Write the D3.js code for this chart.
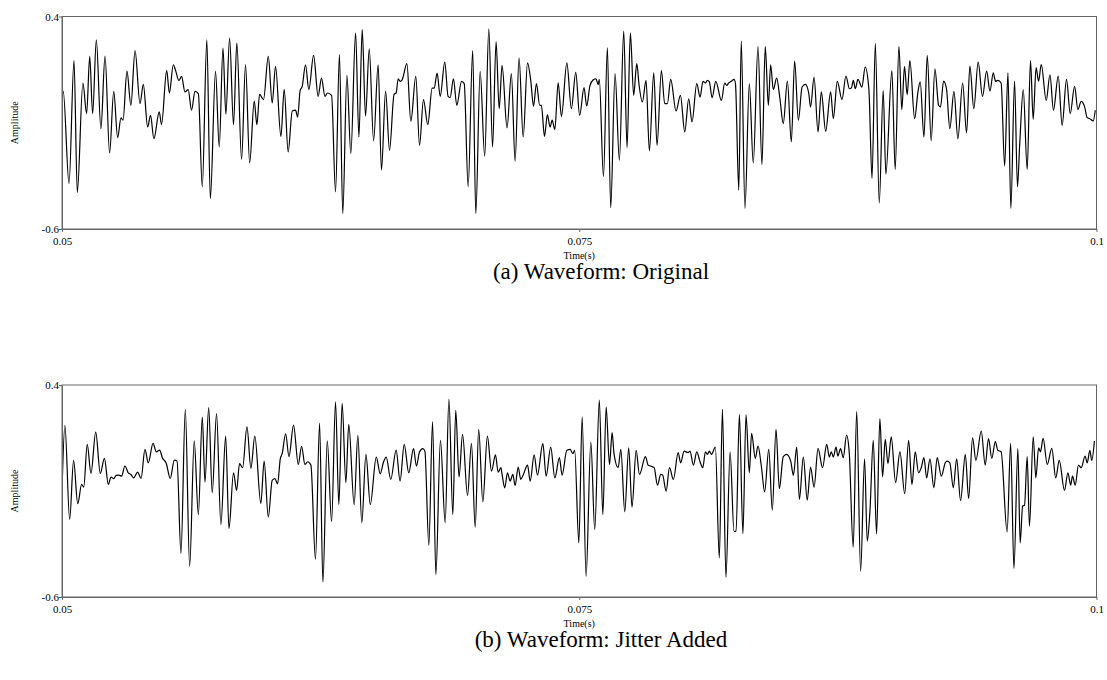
<!DOCTYPE html>
<html>
<head>
<meta charset="utf-8">
<script src="https://cdn.jsdelivr.net/npm/d3@7"></script>
<style>
  body { margin: 0; background: #fff; }
</style>
</head>
<body>
<div id="chart"></div>
<script>
// waveform turning points: time in ms, amplitude
const originalTimeMs = [
  50.00, 50.06, 50.34, 50.58, 50.74, 51.01, 51.19, 51.34, 51.48, 51.66,
  51.88, 52.08, 52.30, 52.50, 52.69, 52.85, 52.95, 53.14, 53.33, 53.53,
  53.77, 53.93, 54.14, 54.28, 54.44, 54.70, 54.81, 55.06, 55.19, 55.38,
  55.49, 55.65, 55.78, 55.94, 56.10, 56.26, 56.43, 56.59, 56.78, 57.00,
  57.17, 57.42, 57.60, 57.78, 57.92, 58.10, 58.29, 58.45, 58.68, 58.87,
  59.07, 59.29, 59.42, 59.55, 59.74, 59.97, 60.16, 60.32, 60.58, 60.74,
  60.93, 61.13, 61.29, 61.39, 61.51, 61.61, 61.77, 61.93, 62.16, 62.38,
  62.54, 62.71, 62.83, 63.03, 63.22, 63.41, 63.57, 63.77, 63.96, 64.19,
  64.35, 64.51, 64.67, 64.85, 65.06, 65.28, 65.44, 65.64, 65.83, 66.05,
  66.15, 66.25, 66.34, 66.44, 66.67, 66.86, 67.10, 67.28, 67.47, 67.68,
  67.89, 67.99, 68.13, 68.28, 68.50, 68.66, 68.76, 68.92, 69.08, 69.31,
  69.44, 69.63, 69.85, 70.00, 70.21, 70.43, 70.63, 70.81, 70.98, 71.13,
  71.27, 71.51, 71.72, 71.90, 72.09, 72.29, 72.50, 72.66, 72.79, 72.93,
  73.09, 73.17, 73.32, 73.46, 73.59, 73.69, 73.82, 73.98, 74.14, 74.40,
  74.62, 74.83, 75.02, 75.23, 75.36, 75.52, 75.68, 75.81, 75.91, 75.97,
  76.17, 76.36, 76.52, 76.73, 76.94, 77.15, 77.31, 77.47, 77.63, 77.78,
  77.89, 78.05, 78.23, 78.39, 78.60, 78.76, 78.97, 79.13, 79.26, 79.42,
  79.68, 79.89, 80.10, 80.29, 80.45, 80.68, 80.84, 80.98, 81.10, 81.19,
  81.29, 81.42, 81.60, 81.87, 82.03, 82.13, 82.22, 82.35, 82.48, 82.55,
  82.71, 82.83, 83.01, 83.22, 83.41, 83.64, 83.83, 83.99, 84.14, 84.25,
  84.38, 84.54, 84.70, 84.86, 85.06, 85.25, 85.41, 85.59, 85.77, 85.93,
  86.09, 86.18, 86.35, 86.54, 86.70, 86.91, 87.15, 87.28, 87.47, 87.70,
  87.89, 88.06, 88.15, 88.25, 88.34, 88.47, 88.66, 88.82, 89.00, 89.15,
  89.31, 89.50, 89.69, 89.82, 90.11, 90.27, 90.45, 90.59, 90.72, 90.85,
  90.98, 91.21, 91.37, 91.48, 91.66, 91.82, 92.01, 92.19, 92.37, 92.46,
  92.61, 92.75, 92.91, 93.11, 93.30, 93.53, 93.72, 93.88, 94.07, 94.28,
  94.49, 94.69, 94.85, 95.01, 95.12, 95.23, 95.39, 95.56, 95.72, 95.86,
  96.04, 96.18, 96.29, 96.46, 96.65, 96.81, 96.94, 97.08, 97.20, 97.33,
  97.57, 97.75, 97.92, 98.15, 98.34, 98.55, 98.73, 98.94, 99.10, 99.26,
  99.42, 99.55, 99.68, 99.84, 99.94
];
const originalAmp = [
  0.024, 0.048, -0.386, 0.193, -0.428, 0.087, -0.057, 0.212, -0.057, 0.290,
  -0.128, 0.214, -0.242, 0.048, -0.170, -0.077, -0.088, 0.143, -0.018, 0.240,
  -0.010, 0.081, -0.120, -0.065, -0.175, -0.049, -0.109, 0.146, 0.040, 0.173,
  0.146, 0.099, 0.118, 0.045, 0.056, -0.041, 0.048, 0.037, -0.401, 0.290,
  -0.456, 0.142, -0.214, 0.251, -0.060, 0.298, -0.109, 0.276, -0.273, 0.174,
  -0.289, 0.002, -0.109, 0.034, 0.009, 0.212, -0.007, 0.165, -0.164, 0.057,
  -0.237, -0.045, -0.041, -0.073, 0.052, 0.071, 0.173, 0.056, 0.217, 0.024,
  0.110, 0.024, 0.040, 0.029, -0.425, 0.221, -0.527, 0.123, -0.245, 0.323,
  -0.167, 0.339, -0.068, 0.248, -0.185, 0.173, -0.323, 0.049, -0.229, 0.034,
  0.040, 0.107, 0.095, 0.102, 0.178, -0.093, 0.118, -0.206, 0.009, -0.109,
  0.063, 0.063, 0.134, 0.024, 0.185, 0.024, 0.018, 0.107, -0.018, 0.095,
  0.084, -0.401, 0.240, -0.527, 0.142, -0.257, 0.342, -0.214, 0.282, -0.034,
  0.170, -0.124, 0.131, -0.281, 0.206, -0.167, 0.182, 0.095, -0.023, 0.084,
  -0.018, -0.018, -0.164, -0.062, -0.120, -0.088, -0.132, 0.088, -0.070, 0.182,
  -0.034, 0.137, -0.065, 0.065, -0.021, 0.076, 0.102, 0.107, 0.079, 0.104,
  -0.354, 0.253, -0.500, 0.131, -0.276, 0.331, -0.217, 0.323, 0.029, 0.178,
  0.079, -0.002, 0.099, -0.232, 0.135, -0.206, 0.146, -0.010, -0.010, 0.104,
  -0.045, 0.029, -0.143, 0.013, -0.096, 0.084, 0.021, 0.095, 0.087, 0.099,
  0.092, 0.018, 0.095, 0.005, 0.087, 0.076, 0.087, 0.095, 0.104, 0.084,
  -0.417, 0.284, -0.503, 0.084, -0.289, 0.259, -0.297, 0.259, -0.018, 0.173,
  0.056, 0.110, 0.013, -0.104, 0.096, -0.190, 0.190, -0.088, 0.068, 0.081,
  0.040, -0.026, 0.115, -0.143, 0.045, -0.140, 0.045, -0.081, 0.095, 0.009,
  0.120, 0.060, 0.063, 0.099, 0.060, 0.104, 0.068, 0.162, 0.056, -0.362,
  0.272, -0.477, 0.052, -0.342, 0.146, -0.320, 0.259, -0.038, 0.165, 0.032,
  0.193, -0.081, 0.045, 0.092, -0.167, 0.217, -0.185, 0.154, -0.018, -0.026,
  0.096, 0.060, -0.128, 0.048, -0.175, 0.087, -0.148, 0.167, -0.034, 0.185,
  0.024, 0.143, 0.049, 0.135, 0.095, 0.099, 0.087, -0.304, 0.135, -0.503,
  0.096, -0.401, -0.198, 0.056, -0.320, 0.193, -0.084, 0.159, 0.096, 0.174,
  0.005, 0.126, -0.041, 0.120, -0.112, 0.104, -0.057, 0.071, -0.038, 0.001,
  -0.023, -0.076, -0.081, -0.092, -0.041
];

const jitterTimeMs = [
  50.00, 50.14, 50.37, 50.56, 50.76, 50.95, 51.05, 51.22, 51.40, 51.63,
  51.85, 52.05, 52.24, 52.37, 52.50, 52.62, 52.75, 52.88, 53.04, 53.20,
  53.33, 53.46, 53.66, 53.82, 54.01, 54.17, 54.40, 54.56, 54.72, 54.85,
  55.04, 55.23, 55.43, 55.56, 55.75, 55.96, 56.17, 56.39, 56.59, 56.78,
  56.91, 57.09, 57.26, 57.47, 57.68, 57.91, 58.07, 58.29, 58.44, 58.58,
  58.73, 58.94, 59.13, 59.32, 59.61, 59.77, 59.97, 60.16, 60.29, 60.42,
  60.55, 60.64, 60.81, 60.97, 61.19, 61.42, 61.58, 61.74, 61.87, 62.03,
  62.25, 62.45, 62.61, 62.82, 63.03, 63.22, 63.38, 63.54, 63.72, 63.86,
  64.12, 64.30, 64.49, 64.69, 64.90, 65.19, 65.38, 65.54, 65.67, 65.89,
  66.15, 66.34, 66.54, 66.76, 66.99, 67.13, 67.28, 67.44, 67.54, 67.73,
  67.91, 68.07, 68.29, 68.52, 68.70, 68.89, 69.03, 69.19, 69.36, 69.60,
  69.79, 69.97, 70.14, 70.34, 70.56, 70.76, 70.95, 71.08, 71.21, 71.27,
  71.40, 71.53, 71.66, 71.79, 71.90, 72.05, 72.17, 72.30, 72.50, 72.63,
  72.82, 72.98, 73.24, 73.40, 73.62, 73.82, 74.04, 74.17, 74.40, 74.56,
  74.69, 74.78, 74.98, 75.14, 75.33, 75.56, 75.75, 75.97, 76.14, 76.30,
  76.46, 76.59, 76.68, 76.88, 77.01, 77.20, 77.39, 77.55, 77.75, 77.91,
  78.20, 78.33, 78.45, 78.62, 78.78, 78.94, 79.03, 79.20, 79.36, 79.55,
  79.78, 79.90, 80.07, 80.26, 80.35, 80.52, 80.68, 80.84, 80.97, 81.10,
  81.19, 81.29, 81.39, 81.58, 81.77, 81.92, 82.09, 82.29, 82.48, 82.58,
  82.74, 82.91, 83.06, 83.22, 83.33, 83.51, 83.64, 83.80, 83.96, 84.16,
  84.33, 84.51, 84.67, 84.86, 85.02, 85.22, 85.35, 85.51, 85.64, 85.83,
  86.02, 86.18, 86.35, 86.54, 86.76, 86.96, 87.09, 87.18, 87.28, 87.41,
  87.50, 87.63, 87.76, 87.92, 88.05, 88.24, 88.41, 88.60, 88.79, 88.92,
  89.05, 89.21, 89.37, 89.53, 89.66, 89.79, 89.92, 90.08, 90.29, 90.50,
  90.73, 90.92, 91.08, 91.24, 91.40, 91.53, 91.66, 91.79, 91.95, 92.14,
  92.30, 92.50, 92.69, 92.79, 92.91, 93.08, 93.24, 93.43, 93.66, 93.82,
  94.01, 94.17, 94.43, 94.62, 94.78, 94.94, 95.11, 95.23, 95.39, 95.68,
  95.85, 96.01, 96.20, 96.31, 96.43, 96.52, 96.65, 96.76, 96.94, 97.07,
  97.20, 97.29, 97.42, 97.62, 97.84, 98.03, 98.20, 98.45, 98.62, 98.75,
  98.84, 98.97, 99.13, 99.26, 99.45, 99.55, 99.68, 99.77, 99.90
];
const jitterAmp = [
  -0.101, 0.210, -0.234, 0.044, -0.160, -0.069, -0.082, 0.120, -0.017, 0.178,
  -0.017, 0.054, -0.069, -0.034, -0.042, -0.026, -0.025, -0.030, 0.018, -0.014,
  -0.022, -0.038, -0.011, -0.041, 0.096, 0.033, 0.125, 0.085, 0.093, 0.057,
  0.030, -0.041, 0.046, 0.041, -0.395, 0.285, -0.455, 0.136, -0.211, 0.249,
  -0.058, 0.293, -0.108, 0.265, -0.258, 0.159, -0.277, -0.014, -0.097, 0.029,
  0.010, 0.203, 0.007, 0.159, -0.159, 0.041, -0.223, -0.050, -0.042, -0.066,
  0.052, 0.076, 0.170, 0.062, 0.211, 0.025, 0.111, 0.025, 0.038, 0.022,
  -0.423, 0.219, -0.529, 0.136, -0.245, 0.320, -0.164, 0.314, -0.061, 0.214,
  -0.164, 0.163, -0.250, 0.073, -0.164, 0.060, -0.019, 0.037, 0.060, -0.045,
  0.093, -0.053, 0.120, -0.014, 0.100, 0.018, 0.084, 0.100, 0.088, -0.356,
  0.227, -0.494, 0.139, -0.250, 0.333, -0.211, 0.281, -0.034, 0.167, -0.121,
  0.125, -0.271, 0.191, -0.151, 0.159, -0.006, 0.070, -0.011, 0.010, -0.022,
  -0.085, -0.014, -0.053, -0.022, -0.074, 0.013, -0.045, -0.022, 0.022, -0.053,
  0.070, -0.025, 0.123, -0.030, 0.107, -0.038, 0.057, -0.025, 0.092, 0.096,
  0.076, 0.092, -0.345, 0.249, -0.502, 0.131, -0.282, 0.329, -0.211, 0.296,
  0.025, 0.175, 0.076, 0.010, 0.096, -0.198, 0.104, -0.176, 0.092, -0.022,
  0.062, 0.022, 0.018, 0.010, -0.072, -0.022, -0.025, -0.101, 0.010, -0.045,
  0.081, 0.033, 0.088, 0.081, 0.088, 0.022, 0.085, 0.037, 0.010, 0.085,
  0.073, 0.088, 0.073, 0.107, -0.416, 0.285, -0.507, 0.085, -0.290, -0.290,
  0.262, -0.301, 0.259, -0.014, 0.172, 0.054, 0.112, 0.018, -0.104, 0.096,
  -0.190, 0.191, -0.089, 0.062, 0.073, 0.041, -0.026, 0.107, -0.140, 0.060,
  -0.143, 0.013, -0.082, 0.101, 0.010, 0.120, 0.060, 0.085, 0.060, 0.107,
  0.065, 0.100, 0.057, 0.164, 0.081, -0.365, 0.274, -0.479, 0.052, -0.337,
  -0.195, 0.139, -0.302, 0.241, -0.033, 0.144, 0.029, 0.155, -0.061, 0.085,
  -0.113, 0.139, -0.069, 0.085, -0.014, 0.010, 0.057, -0.038, 0.052, -0.085,
  0.057, -0.030, 0.033, 0.041, 0.033, -0.085, 0.052, -0.145, 0.073, -0.135,
  0.151, 0.044, 0.183, 0.022, 0.147, 0.054, 0.133, 0.092, 0.085, -0.293,
  0.125, -0.466, 0.100, -0.345, -0.171, -0.167, 0.062, -0.266, 0.155, -0.038,
  0.104, 0.085, 0.148, 0.025, 0.101, -0.038, 0.044, -0.097, -0.014, -0.072,
  -0.030, -0.072, 0.022, 0.010, 0.065, 0.033, 0.092, 0.044, 0.136
];

const xTicks = [0.05, 0.075, 0.1];
const yTicks = [0.4, -0.6];
const captions = ["(a) Waveform: Original", "(b) Waveform: Jitter Added"];

const width = 1107;
const height = 680;
const plotLeft = 62;
const plotRight = 1096.5;
const axisColor = "#666";
const serif = "'Liberation Serif', 'Times New Roman', Times, 'DejaVu Serif', serif";

// each panel: vertical placement of plot box and the caption under it
const panels = [
  { top: 16.5, bottom: 229, caption: captions[0], time: originalTimeMs, amp: originalAmp },
  { top: 385, bottom: 597, caption: captions[1], time: jitterTimeMs, amp: jitterAmp }
];

const svg = d3.select("#chart")
  .append("svg")
    .attr("width", width)
    .attr("height", height)
    .attr("font-family", serif);

const x = d3.scaleLinear()
  .domain([0.05, 0.1])
  .range([plotLeft, plotRight]);

panels.forEach((p, i) => {
  const y = d3.scaleLinear()
    .domain([-0.6, 0.4])
    .range([p.bottom, p.top]);

  const points = p.time.map((t, k) => [t / 1000, p.amp[k]]);

  const g = svg.append("g");

  // clip so the smoothed line never spills outside the box
  g.append("clipPath")
    .attr("id", `clip${i}`)
    .append("rect")
      .attr("x", plotLeft)
      .attr("y", p.top)
      .attr("width", plotRight - plotLeft)
      .attr("height", p.bottom - p.top);

  const line = d3.line()
    .x(d => x(d[0]))
    .y(d => y(d[1]))
    .curve(d3.curveMonotoneX);

  g.append("path")
    .datum(points)
    .attr("clip-path", `url(#clip${i})`)
    .attr("fill", "none")
    .attr("stroke", "#000")
    .attr("stroke-width", 1.2)
    .attr("stroke-linejoin", "round")
    .attr("d", line);

  // frame
  g.append("rect")
    .attr("x", plotLeft)
    .attr("y", p.top)
    .attr("width", plotRight - plotLeft)
    .attr("height", p.bottom - p.top)
    .attr("fill", "none")
    .attr("stroke", axisColor)
    .attr("stroke-width", 1);

  // y axis
  const yAxis = g.append("g")
    .attr("transform", `translate(${plotLeft},0)`)
    .call(d3.axisLeft(y).tickValues(yTicks).tickSize(3).tickSizeOuter(0).tickFormat(d => String(d)))
    .attr("font-family", serif)
    .attr("font-size", 11);
  yAxis.select(".domain").attr("stroke", axisColor);
  yAxis.selectAll(".tick line").attr("stroke", axisColor);
  yAxis.selectAll(".tick text")
    .attr("x", -3)
    .attr("fill", "#000");

  // x axis
  const xAxis = g.append("g")
    .attr("transform", `translate(0,${p.bottom})`)
    .call(d3.axisBottom(x).tickValues(xTicks).tickSize(3).tickSizeOuter(0).tickFormat(d => String(d)))
    .attr("font-family", serif)
    .attr("font-size", 11);
  xAxis.select(".domain").attr("stroke", axisColor);
  xAxis.selectAll(".tick line").attr("stroke", axisColor);
  xAxis.selectAll(".tick text")
    .attr("y", 16)
    .attr("dy", null)
    .attr("fill", "#000");

  g.append("text")
    .attr("x", (plotLeft + plotRight) / 2)
    .attr("y", p.bottom + 30)
    .attr("text-anchor", "middle")
    .attr("font-size", 10)
    .text("Time(s)");

  g.append("text")
    .attr("transform", `translate(18,${(p.top + p.bottom) / 2}) rotate(-90)`)
    .attr("text-anchor", "middle")
    .attr("font-size", 10)
    .text("Amplitude");

  g.append("text")
    .attr("x", 601)
    .attr("y", p.bottom + 50)
    .attr("text-anchor", "middle")
    .attr("font-size", 23)
    .text(p.caption);
});
</script>
</body>
</html>
